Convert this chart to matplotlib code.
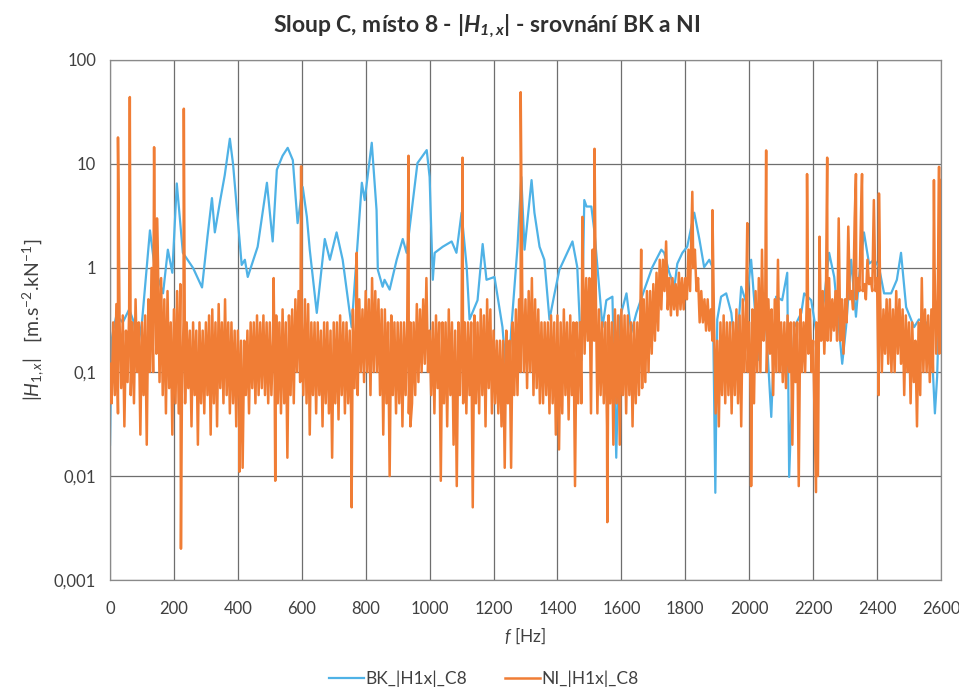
import numpy as np
import matplotlib
matplotlib.use('Agg')
from matplotlib import pyplot as plt
from matplotlib.ticker import FixedLocator, FixedFormatter, NullLocator

# BK series
bk_f = [0, 5, 10, 20, 40, 60, 75, 85, 100, 125, 140, 166, 181, 195, 209, 228, 260, 288, 305, 319,
        328, 345, 359, 375, 385, 400, 412, 422, 431, 462, 491, 509, 522, 540, 556, 572, 587, 603, 616, 625,
        647, 672, 688, 709, 728, 756, 788, 797, 819, 834, 838, 853, 859, 875, 897, 916, 928, 962, 991, 1000,
        1010, 1016, 1041, 1069, 1084, 1100, 1116, 1125, 1150, 1166, 1178, 1203, 1228, 1244, 1256, 1275, 1287, 1297, 1319, 1328,
        1344, 1359, 1375, 1391, 1406, 1447, 1462, 1475, 1484, 1491, 1506, 1516, 1541, 1553, 1572, 1584, 1594, 1616, 1631, 1647,
        1672, 1697, 1725, 1734, 1750, 1766, 1775, 1791, 1806, 1828, 1844, 1859, 1875, 1885, 1894, 1900, 1912, 1928, 1944, 1959,
        1975, 1991, 2006, 2022, 2031, 2047, 2069, 2084, 2103, 2119, 2125, 2141, 2163, 2172, 2194, 2212, 2234, 2250, 2266, 2291,
        2303, 2319, 2334, 2344, 2359, 2375, 2391, 2406, 2422, 2444, 2462, 2475, 2491, 2516, 2531, 2553, 2572, 2581, 2588, 2594,
        2600]
bk_v = [0.02, 0.2, 0.25, 0.35, 0.3, 0.4, 0.3, 0.16, 0.3, 2.3, 1.0, 0.57, 1.5, 0.9, 6.5, 1.4, 1.0, 0.65, 2.0, 4.7,
        2.2, 4.5, 7.8, 17.5, 10, 2.9, 1.07, 1.2, 0.82, 1.6, 6.6, 1.8, 8.8, 12, 14.3, 10.9, 2.7, 6.0, 3.1, 1.5,
        0.37, 1.9, 1.2, 2.2, 1.2, 0.27, 6.6, 4.5, 16, 3.6, 0.96, 0.66, 0.77, 0.62, 1.2, 1.9, 1.4, 10.2, 13.6, 7.5,
        0.77, 1.4, 1.6, 1.8, 1.4, 3.4, 1.02, 0.32, 0.49, 1.7, 0.77, 0.82, 0.27, 0.067, 0.27, 1.6, 7.5, 1.5, 7.0, 3.4,
        1.6, 1.2, 0.32, 0.57, 0.96, 1.8, 1.02, 0.13, 4.5, 3.9, 3.9, 2.2, 0.27, 0.49, 0.53, 0.015, 0.32, 0.57, 0.24, 0.37,
        0.62, 1.02, 1.5, 1.4, 0.9, 0.66, 1.1, 1.4, 1.6, 3.4, 1.9, 1.02, 1.2, 1.02, 0.0069, 0.32, 0.53, 0.57, 0.37, 0.13,
        0.66, 0.46, 1.2, 0.27, 0.13, 0.57, 0.037, 0.53, 0.49, 0.9, 0.0098, 0.27, 0.37, 0.57, 0.49, 0.22, 0.49, 1.4, 0.82, 0.12,
        0.27, 1.2, 0.34, 0.82, 2.2, 1.1, 1.2, 1.02, 0.57, 0.57, 0.77, 1.4, 0.42, 0.27, 0.32, 0.3, 0.15, 0.04, 0.09, 0.4,
        0.25]

# NI series: values every 5 Hz (one row = 100 Hz) ...
ni_step = 5
ni_v = [
    0.12, 0.05, 0.3, 0.06, 0.45, 0.04, 0.3, 0.07, 0.35, 0.03, 0.25, 0.08, 0.4, 0.06, 0.3, 0.05, 0.5, 0.1, 0.3, 0.025,
    0.3, 0.06, 0.35, 0.02, 0.5, 0.1, 1.0, 0.1, 1.5, 0.15, 1.2, 0.08, 0.8, 0.06, 0.5, 0.04, 0.6, 0.07, 0.3, 0.025,
    0.4, 0.05, 0.6, 0.04, 0.7, 0.06, 0.3, 0.05, 0.3, 0.07, 0.25, 0.03, 0.3, 0.06, 0.25, 0.02, 0.3, 0.05, 0.25, 0.04,
    0.3, 0.06, 0.35, 0.025, 0.4, 0.05, 0.3, 0.03, 0.45, 0.07, 0.3, 0.05, 0.5, 0.06, 0.3, 0.04, 0.3, 0.05, 0.25, 0.03,
    0.25, 0.05, 0.2, 0.012, 0.2, 0.06, 0.25, 0.04, 0.3, 0.07, 0.3, 0.05, 0.35, 0.06, 0.3, 0.07, 0.35, 0.06, 0.3, 0.05,
    0.3, 0.06, 0.2, 0.1, 0.35, 0.05, 0.3, 0.04, 0.4, 0.05, 0.3, 0.015, 0.35, 0.06, 0.4, 0.05, 0.5, 0.1, 0.6, 0.08,
    0.3, 0.06, 0.5, 0.05, 0.45, 0.025, 0.3, 0.06, 0.3, 0.04, 0.3, 0.06, 0.25, 0.03, 0.3, 0.05, 0.3, 0.04, 0.25, 0.015,
    0.3, 0.05, 0.3, 0.035, 0.35, 0.06, 0.3, 0.04, 0.3, 0.05, 0.25, 0.03, 0.4, 0.07, 0.3, 0.06, 0.5, 0.1, 0.4, 0.08,
    0.6, 0.1, 0.5, 0.06, 0.8, 0.1, 0.6, 0.1, 0.5, 0.06, 0.4, 0.025, 0.4, 0.05, 0.3, 0.01, 0.35, 0.06, 0.3, 0.04,
    0.3, 0.05, 0.3, 0.03, 0.3, 0.06, 0.3, 0.04, 0.3, 0.05, 0.3, 0.06, 0.45, 0.08, 0.4, 0.1, 0.5, 0.12, 0.8, 0.1,
    0.25, 0.06, 0.3, 0.04, 0.35, 0.07, 0.3, 0.009, 0.3, 0.05, 0.3, 0.03, 0.4, 0.06, 0.3, 0.02, 0.25, 0.008, 0.3, 0.06,
    0.3, 0.05, 0.3, 0.04, 0.3, 0.06, 0.3, 0.005, 0.35, 0.05, 0.3, 0.04, 0.4, 0.06, 0.35, 0.03, 0.5, 0.07, 0.4, 0.04,
    0.25, 0.05, 0.2, 0.04, 0.2, 0.03, 0.2, 0.012, 0.25, 0.05, 0.2, 0.012, 0.3, 0.06, 0.4, 0.06, 0.5, 0.1, 0.5, 0.1,
    0.5, 0.07, 0.6, 0.1, 0.8, 0.06, 0.5, 0.07, 0.4, 0.05, 0.3, 0.05, 0.3, 0.06, 0.3, 0.04, 0.35, 0.05, 0.3, 0.025,
    0.35, 0.018, 0.3, 0.04, 0.4, 0.06, 0.3, 0.035, 0.35, 0.06, 0.3, 0.008, 0.3, 0.05, 0.3, 0.05, 1.0, 0.15, 0.8, 0.2,
    0.8, 0.04, 1.5, 0.2, 0.6, 0.04, 0.4, 0.06, 0.3, 0.05, 0.3, 0.03, 0.35, 0.05, 0.3, 0.02, 0.4, 0.05, 0.35, 0.02,
    0.4, 0.06, 0.35, 0.04, 0.35, 0.06, 0.3, 0.03, 0.3, 0.05, 0.3, 0.06, 0.5, 0.07, 0.5, 0.08, 0.6, 0.1, 0.6, 0.15,
    0.7, 0.2, 0.9, 0.25, 1.2, 0.4, 1.2, 0.6, 1.8, 0.4, 0.8, 0.35, 0.8, 0.4, 0.7, 0.35, 0.9, 0.4, 0.8, 0.4,
    0.8, 0.5, 1.5, 0.6, 3.0, 1.0, 1.5, 0.6, 0.8, 0.3, 0.6, 0.3, 0.5, 0.25, 0.5, 0.25, 0.4, 0.2, 0.3, 0.04,
    0.2, 0.03, 0.3, 0.06, 0.35, 0.05, 0.3, 0.06, 0.3, 0.04, 0.3, 0.06, 0.4, 0.05, 0.35, 0.03, 0.5, 0.1, 0.4, 0.1,
    0.3, 0.05, 0.4, 0.05, 0.6, 0.1, 0.8, 0.1, 1.5, 0.2, 0.4, 0.1, 0.5, 0.15, 0.4, 0.06, 0.5, 0.1, 1.2, 0.1,
    0.3, 0.08, 0.3, 0.07, 0.35, 0.1, 0.3, 0.02, 0.3, 0.08, 0.3, 0.008, 0.4, 0.1, 0.3, 0.1, 0.5, 0.15, 0.4, 0.1,
    0.2, 0.03, 0.3, 0.01, 2.0, 0.2, 0.6, 0.15, 0.5, 0.2, 0.8, 0.2, 0.5, 0.25, 0.6, 0.2, 3.0, 0.2, 0.5, 0.15,
    0.5, 0.3, 2.5, 0.5, 0.6, 0.4, 3.0, 0.5, 0.8, 0.6, 3.5, 0.6, 0.7, 0.5, 1.2, 0.7, 0.8, 0.6, 4.5, 0.6,
    0.8, 0.06, 0.5, 0.1, 0.4, 0.15, 0.5, 0.12, 0.5, 0.1, 0.4, 0.1, 0.6, 0.15, 0.5, 0.12, 0.4, 0.06, 0.35, 0.1,
    0.3, 0.05, 0.3, 0.08, 0.2, 0.03, 0.3, 0.06, 0.8, 0.1, 0.4, 0.1, 0.35, 0.08, 0.4, 0.1, 1.0, 0.15, 0.5, 0.15,
    7.0]
# ... plus the narrow resonance peaks / dips between those points
ni_peak_f = [25, 62, 138, 147, 222, 231, 405, 512, 517, 598, 756, 772, 934, 940, 1103, 1285, 1478,
             1516, 1556, 1662, 1822, 1885, 1994, 2006, 2053, 2181, 2209, 2244, 2334, 2353, 2406, 2578, 2594]
ni_peak_v = [18, 44, 14.5, 3.0, 0.002, 34, 0.011, 0.8, 0.009, 9.5, 0.005, 1.4, 12, 0.03, 11.5, 49, 3.1,
             14, 0.0036, 1.5, 5.4, 3.6, 2.7, 0.008, 13.5, 8, 0.007, 11.5, 8, 8, 5.2, 7, 9.4]

x_ticks = [0, 200, 400, 600, 800, 1000, 1200, 1400, 1600, 1800, 2000, 2200, 2400, 2600]
y_ticks = [0.001, 0.01, 0.1, 1, 10, 100]
y_labels = ['0,001', '0,01', '0,1', '1', '10', '100']

ni_f = np.concatenate([np.arange(len(ni_v)) * ni_step, ni_peak_f])
ni_all = np.concatenate([ni_v, ni_peak_v])
order = np.argsort(ni_f, kind='stable')
ni_f, ni_all = ni_f[order], ni_all[order]

plt.rcParams['font.family'] = ['Lato', 'DejaVu Sans']
plt.rcParams['mathtext.fontset'] = 'custom'
plt.rcParams['mathtext.rm'] = 'Lato'
plt.rcParams['mathtext.it'] = 'Lato:italic'
plt.rcParams['mathtext.bf'] = 'Lato:bold:italic'

fig = plt.figure(figsize=(9.59, 6.91), dpi=100)
ax = fig.add_axes([0.1147, 0.1606, 0.8665, 0.7526])

ax.plot(bk_f, bk_v, color='#4fb2e6', lw=1.6, label='BK_|H1x|_C8', zorder=2)
ax.plot(ni_f, ni_all, color='#f07d35', lw=1.8, label='NI_|H1x|_C8', zorder=3)

ax.set_yscale('log')
ax.set_xlim(0, 2600)
ax.set_ylim(0.001, 100)
ax.xaxis.set_major_locator(FixedLocator(x_ticks))
ax.yaxis.set_major_locator(FixedLocator(y_ticks))
ax.yaxis.set_major_formatter(FixedFormatter(y_labels))
ax.yaxis.set_minor_locator(NullLocator())
ax.tick_params(length=0, labelsize=12, colors='#404040')
ax.tick_params(axis='x', pad=15)
ax.tick_params(axis='y', pad=10)
ax.grid(True, color='#6e6e6e', lw=0.9)
ax.set_axisbelow(True)
for s in ax.spines.values():
    s.set_color('#8a8a8a')
    s.set_linewidth(0.9)

fig.text(0.507, 0.962, r'Sloup C, místo 8 - $\mathbf{|H_{1,x}|}$ - srovnání BK a NI',
         ha='center', va='center', fontsize=16.5, fontweight='bold', color='#303030')
ax.set_xlabel(r'$f$ [Hz]', fontsize=12.5, color='#404040', labelpad=6)
ax.set_ylabel(r'$|H_{1,x}|$   [m.s$^{-2}$.kN$^{-1}$]', fontsize=14, color='#404040', labelpad=6)

ax.legend(loc='center', bbox_to_anchor=(0.45, -0.19), ncol=2, frameon=False,
          fontsize=12.5, handlelength=2.0, columnspacing=2.2, handletextpad=0.1,
          labelcolor='#404040', borderpad=0.2)

fig.savefig('out.png', dpi=100, facecolor='white')
